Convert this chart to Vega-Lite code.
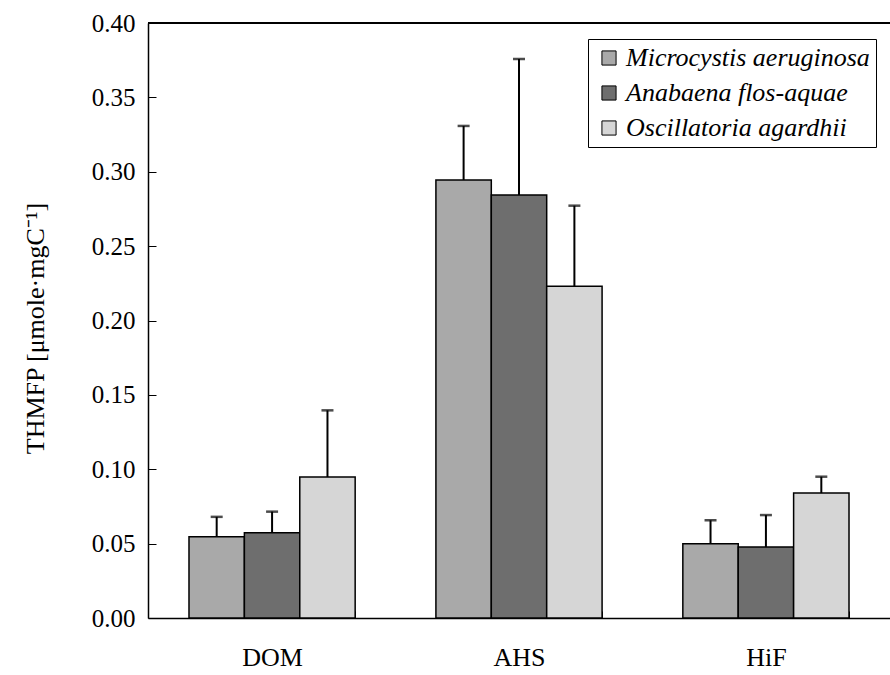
{
  "$schema": "https://vega.github.io/schema/vega-lite/v6.json",
  "width": 742,
  "height": 595,
  "autosize": {"type": "none"},
  "padding": {"left": 148, "top": 23, "right": 0, "bottom": 57},
  "background": "white",
  "config": {
    "font": "Liberation Serif",
    "view": {"stroke": null},
    "axis": {"domainColor": "black", "domainWidth": 1.5, "tickColor": "black", "tickWidth": 1, "labelColor": "black", "titleColor": "black", "grid": false, "labelFont": "Liberation Serif", "titleFont": "Liberation Serif", "labelFontSize": 25, "titleFontSize": 26, "titleFontWeight": "normal"},
    "legend": {"orient": "none", "legendX": 440, "legendY": 16, "strokeColor": "black", "fillColor": "white", "padding": 6, "symbolType": "square", "symbolSize": 200, "symbolOffset": 2, "symbolStrokeColor": "black", "symbolStrokeWidth": 1, "labelFont": "Liberation Serif", "labelFontSize": 26, "labelFontStyle": "italic", "labelColor": "black", "labelOffset": 4, "rowPadding": 9, "labelLimit": 400}
  },
  "data": {
    "values": [
      {"fraction": "DOM", "species": "Microcystis aeruginosa", "value": 0.0547, "upper": 0.068},
      {"fraction": "DOM", "species": "Anabaena flos-aquae", "value": 0.0573, "upper": 0.0715},
      {"fraction": "DOM", "species": "Oscillatoria agardhii", "value": 0.0948, "upper": 0.1396},
      {"fraction": "AHS", "species": "Microcystis aeruginosa", "value": 0.2945, "upper": 0.3308},
      {"fraction": "AHS", "species": "Anabaena flos-aquae", "value": 0.2844, "upper": 0.3758},
      {"fraction": "AHS", "species": "Oscillatoria agardhii", "value": 0.223, "upper": 0.2772},
      {"fraction": "HiF", "species": "Microcystis aeruginosa", "value": 0.050, "upper": 0.0657},
      {"fraction": "HiF", "species": "Anabaena flos-aquae", "value": 0.0477, "upper": 0.0692},
      {"fraction": "HiF", "species": "Oscillatoria agardhii", "value": 0.084, "upper": 0.095}
    ]
  },
  "encoding": {
    "x": {"field": "fraction", "type": "nominal", "sort": ["DOM", "AHS", "HiF"], "scale": {"paddingInner": 0.327, "paddingOuter": 0.166},
      "axis": {"title": null, "labelAngle": 0, "tickBand": "extent", "tickSize": -7, "labelPadding": 33, "labelFontSize": 26}},
    "xOffset": {"field": "species", "type": "nominal", "sort": ["Microcystis aeruginosa", "Anabaena flos-aquae", "Oscillatoria agardhii"], "scale": {"paddingInner": 0, "paddingOuter": 0}}
  },
  "layer": [
    {
      "mark": {"type": "bar", "stroke": "black", "strokeWidth": 1.5},
      "encoding": {
        "y": {"field": "value", "type": "quantitative", "scale": {"domain": [0, 0.4]},
          "axis": {"values": [0, 0.05, 0.1, 0.15, 0.2, 0.25, 0.3, 0.35, 0.4], "format": ".2f", "tickSize": -8, "labelPadding": 21, "title": "THMFP [μmole·mgC⁻¹]", "titleAngle": -90, "titleX": -113, "titleY": 305, "titleAlign": "center", "titleBaseline": "middle"}},
        "fill": {"field": "species", "type": "nominal", "sort": ["Microcystis aeruginosa", "Anabaena flos-aquae", "Oscillatoria agardhii"], "scale": {"range": ["#a9a9a9", "#6e6e6e", "#d6d6d6"]},
          "legend": {"title": null, "labelFont": "Liberation Serif", "labelFontStyle": "italic", "labelFontSize": 26}}
      }
    },
    {
      "mark": {"type": "rule", "strokeWidth": 2, "color": "black"},
      "encoding": {"y": {"field": "value", "type": "quantitative"}, "y2": {"field": "upper"}}
    },
    {
      "mark": {"type": "tick", "thickness": 2.5, "size": 12, "color": "black"},
      "encoding": {"y": {"field": "upper", "type": "quantitative"}}
    },
    {
      "mark": {"type": "rule", "strokeWidth": 1.5, "color": "black"},
      "encoding": {"y": {"datum": 0.4}, "x": null, "xOffset": null}
    }
  ]
}
